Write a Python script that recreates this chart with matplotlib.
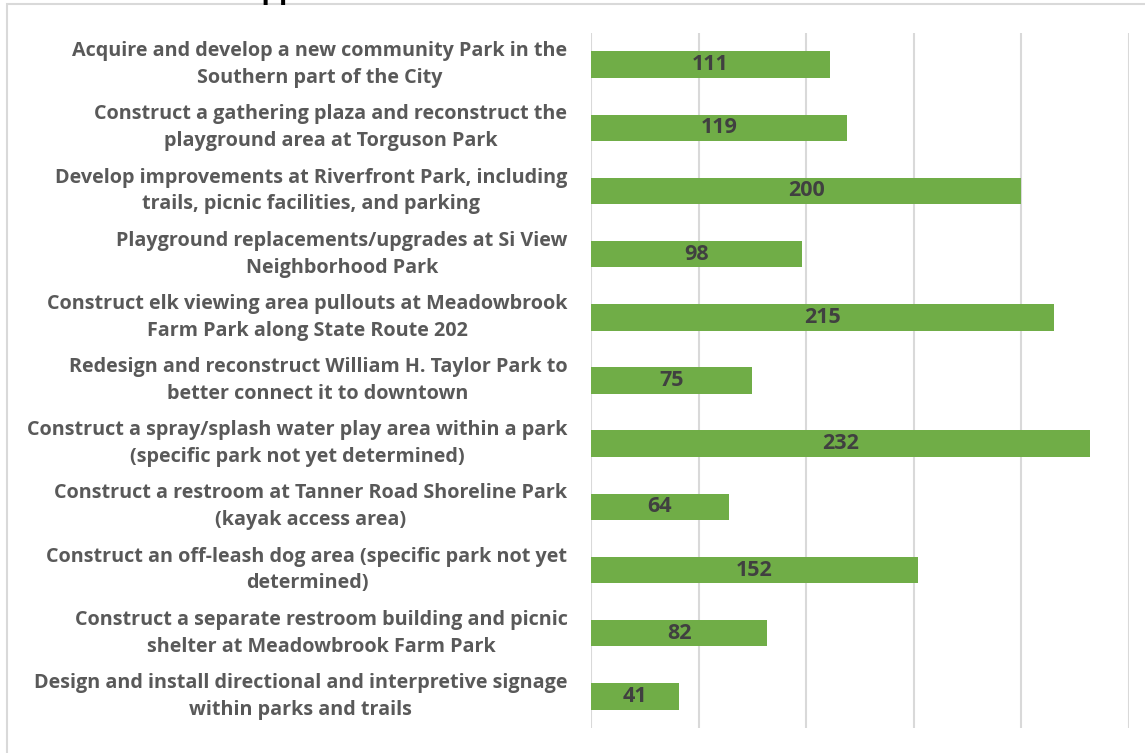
import matplotlib
matplotlib.use("Agg")
import matplotlib.pyplot as plt
from matplotlib.patches import Rectangle

# projets et nombre de votes
projects = [
    "Acquire and develop a new community Park in the\nSouthern part of the City",
    "Construct a gathering plaza and reconstruct the\nplayground area at Torguson Park",
    "Develop improvements at Riverfront Park, including\ntrails, picnic facilities, and parking",
    "Playground replacements/upgrades at Si View\nNeighborhood Park",
    "Construct elk viewing area pullouts at Meadowbrook\nFarm Park along State Route 202",
    "Redesign and reconstruct William H. Taylor Park to\nbetter connect it to downtown",
    "Construct a spray/splash water play area within a park\n(specific park not yet determined)",
    "Construct a restroom at Tanner Road Shoreline Park\n(kayak access area)",
    "Construct an off-leash dog area (specific park not yet\ndetermined)",
    "Construct a separate restroom building and picnic\nshelter at Meadowbrook Farm Park",
    "Design and install directional and interpretive signage\nwithin parks and trails",
]
votes = [111, 119, 200, 98, 215, 75, 232, 64, 152, 82, 41]
xticks = [0, 50, 100, 150, 200, 250]

FONT = "Open Sans"
W, H = 1145, 753
fig = plt.figure(figsize=(W / 100, H / 100), dpi=100)
ax = fig.add_axes([591 / W, 1 - 728 / H, (1129 - 591) / W, (728 - 33) / H])

pos = list(range(len(projects)))
bars = ax.barh(pos, votes, height=0.42, color="#70AD47", zorder=3)
ax.set_ylim(len(projects) - 0.5, -0.5)
ax.set_xlim(0, 250)
ax.set_xticks(xticks)
ax.xaxis.grid(True, color="#D9D9D9", linewidth=1.5, zorder=0)
ax.tick_params(axis="x", length=0, labelbottom=False)
ax.tick_params(axis="y", length=0, pad=17)
ax.set_yticks(pos)
ax.set_yticklabels(projects, fontsize=14.2, fontweight="bold", color="#595959",
                   family=FONT, multialignment="center", linespacing=1.45, va="center")
for s in ax.spines.values():
    s.set_visible(False)

for b, v in zip(bars, votes):
    ax.text(v / 2, b.get_y() + b.get_height() / 2, str(v), ha="center", va="center",
            fontsize=15.5, fontweight="bold", color="#404040", family=FONT, zorder=4)

# cadre gris et bout du titre coupé
fig.patches.append(Rectangle((7 / W, -0.05), 1.1, 1 - 4 / H + 0.05, transform=fig.transFigure,
                             fill=False, edgecolor="#D9D9D9", linewidth=1.5))
fig.text(284 / W, 1 + 2 / H, "Support", ha="center", va="baseline", fontsize=20,
         fontweight="bold", color="black", family=FONT)

fig.savefig("out.png", dpi=100)
